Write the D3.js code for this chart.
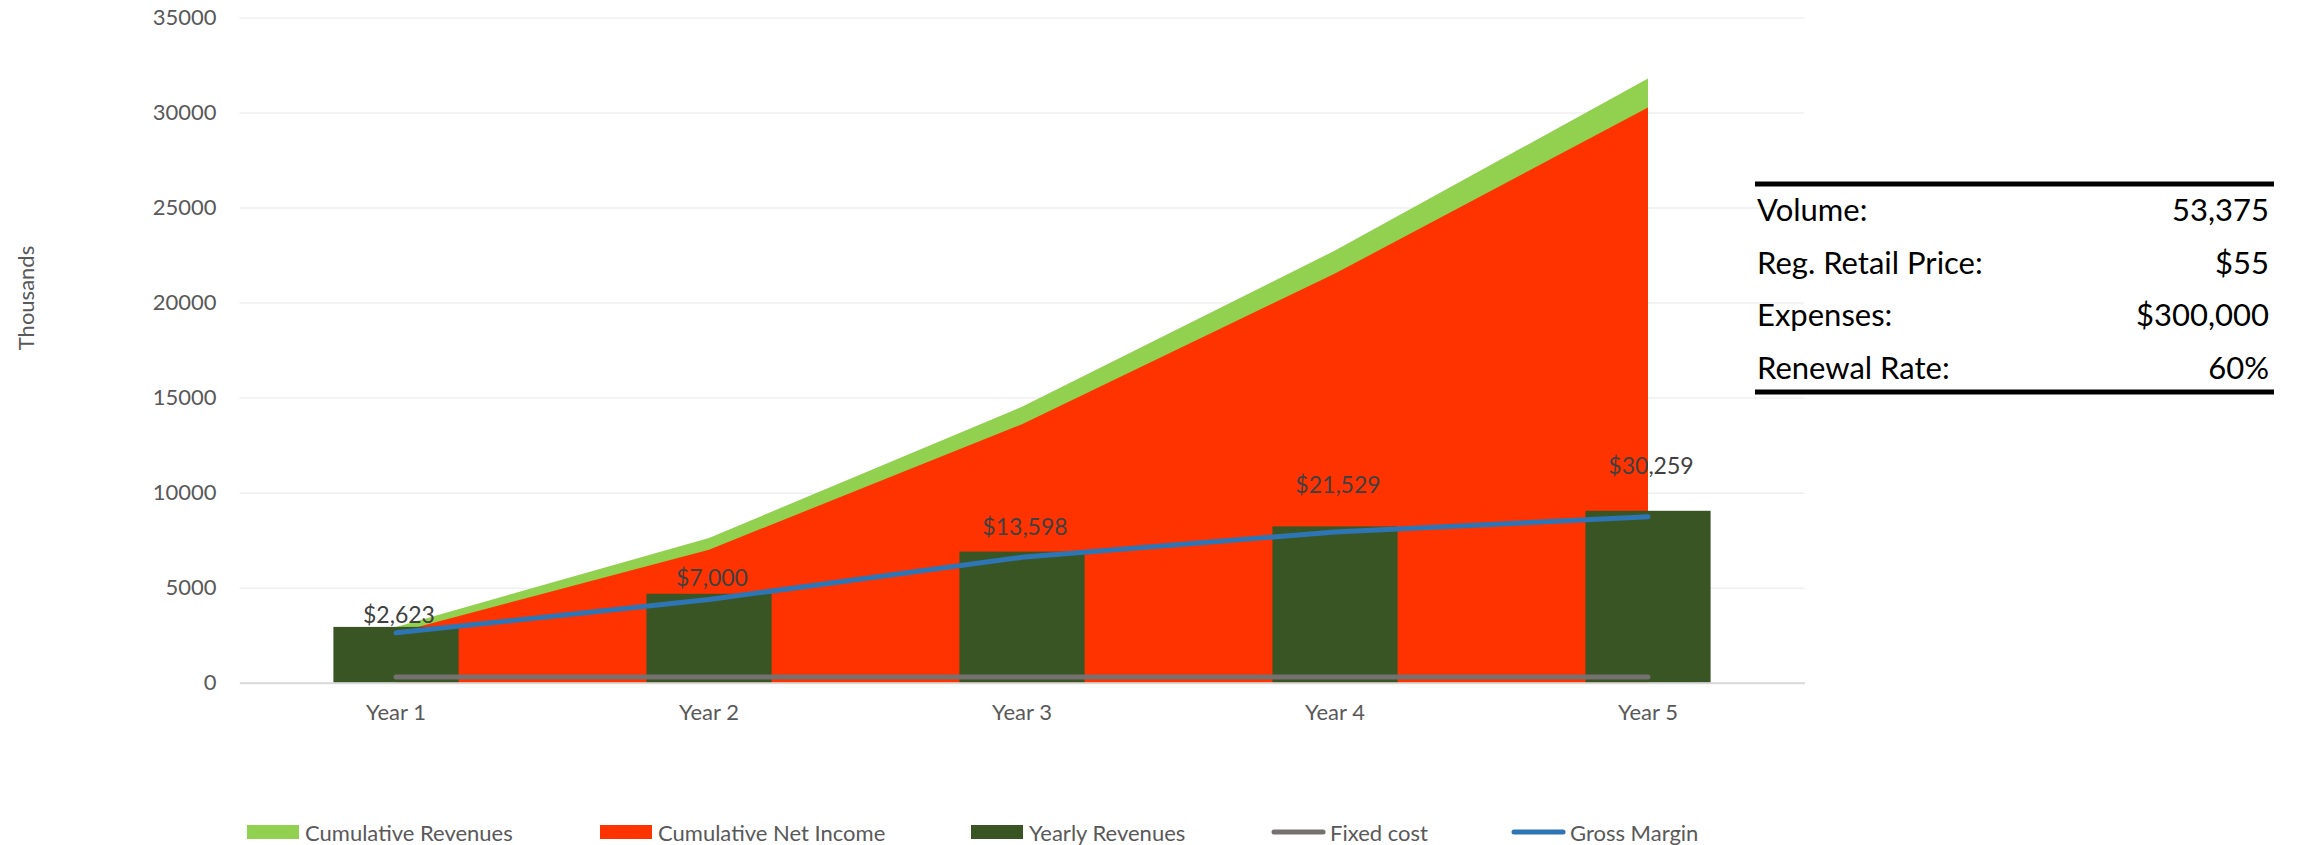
<!DOCTYPE html>
<html>
<head>
<meta charset="utf-8">
<script src="https://cdn.jsdelivr.net/npm/d3@7/dist/d3.min.js"></script>
<style>
  html, body { margin: 0; padding: 0; background: #ffffff; }
  svg { display: block; font-family: Lato, "Open Sans", sans-serif; }
  svg text { font-family: Lato, "Open Sans", sans-serif; }
</style>
</head>
<body>
<svg id="chart" width="2303" height="845"></svg>
<script>
// Five-year revenue projection (values in thousands of dollars)
const categories = ["Year 1", "Year 2", "Year 3", "Year 4", "Year 5"];
const cumulativeRevenues = [2936, 7616, 14516, 22741, 31786];
const cumulativeNetIncome = [2623, 7000, 13598, 21529, 30259];
const yearlyRevenues = [2936, 4680, 6900, 8225, 9045];
const fixedCost = [300, 300, 300, 300, 300];
const grossMargin = [2623, 4377, 6598, 7931, 8730];
// value-axis level at which each net-income label is placed
const labelAnchor = [3630, 5580, 8220, 10440, 11440];
const yTicks = [0, 5000, 10000, 15000, 20000, 25000, 30000, 35000];

const seriesNames = ["Cumulative Revenues", "Cumulative Net Income", "Yearly Revenues", "Fixed cost", "Gross Margin"];

const summaryLabels = ["Volume:", "Reg. Retail Price:", "Expenses:", "Renewal Rate:"];
const summaryValues = ["53,375", "$55", "$300,000", "60%"];

// colours
const C = {
  cumRev: "#92D050",
  cumNet: "#FF3300",
  yearly: "#3A5524",
  fixed: "#767171",
  margin: "#2E75B6",
  grid: "#EFEFEF",
  axis: "#D9D9D9",
  text: "#595959",
  label: "#404040"
};
const FONT = 'Lato, "Open Sans", sans-serif';

const svg = d3.select("#chart");

const plot = { left: 239.5, right: 1804.5, top: 17.5, bottom: 682.7 };

const x = d3.scaleBand().domain(categories).range([plot.left, plot.right]).padding(0);
const cx = d => x(d) + x.bandwidth() / 2;
const y = d3.scaleLinear().domain([0, 35000]).range([plot.bottom, plot.top]);

const rows = categories.map((c, i) => ({
  cat: c,
  cumRev: cumulativeRevenues[i],
  cumNet: cumulativeNetIncome[i],
  yearly: yearlyRevenues[i],
  fixed: fixedCost[i],
  margin: grossMargin[i],
  anchor: labelAnchor[i]
}));

// horizontal gridlines
const grid = svg.append("g")
  .attr("transform", `translate(${plot.left},0)`)
  .call(d3.axisLeft(y).tickValues(yTicks).tickSize(-(plot.right - plot.left)).tickFormat(""));
grid.select(".domain").remove();
grid.selectAll("line").attr("stroke", C.grid).attr("stroke-width", 1.5);

// value axis labels
const yAxis = svg.append("g")
  .attr("transform", `translate(${plot.left},0)`)
  .call(d3.axisLeft(y).tickValues(yTicks).tickSize(0).tickPadding(23).tickFormat(d3.format("d")))
  .attr("font-family", FONT);
yAxis.select(".domain").remove();
yAxis.selectAll("text")
  .attr("fill", C.text)
  .style("font-size", "22px");

// axis title
svg.append("text")
  .attr("transform", "translate(25,298) rotate(-90)")
  .attr("text-anchor", "middle")
  .attr("dominant-baseline", "central")
  .attr("fill", C.text)
  .style("font-size", "22px")
  .text("Thousands");

// cumulative areas, anchored at category centres
const areaOf = key => d3.area()
  .x(d => cx(d.cat))
  .y0(y(0))
  .y1(d => y(d[key]));

svg.append("path")
  .datum(rows)
  .attr("d", areaOf("cumRev"))
  .attr("fill", C.cumRev);

svg.append("path")
  .datum(rows)
  .attr("d", areaOf("cumNet"))
  .attr("fill", C.cumNet);

// yearly revenue columns
const barW = x.bandwidth() * 0.4;
svg.append("g")
  .selectAll("rect")
  .data(rows)
  .join("rect")
  .attr("x", d => cx(d.cat) - barW / 2)
  .attr("width", barW)
  .attr("y", d => y(d.yearly))
  .attr("height", d => y(0) - y(d.yearly))
  .attr("fill", C.yearly);

// category axis
const xAxis = svg.append("g")
  .attr("transform", `translate(0,${plot.bottom})`)
  .call(d3.axisBottom(x).tickSize(0))
  .attr("font-family", FONT);
xAxis.select(".domain").attr("stroke", C.axis).attr("stroke-width", 2);
xAxis.selectAll("text")
  .attr("y", 30)
  .attr("dy", "0.35em")
  .attr("fill", C.text)
  .style("font-size", "22px");

// lines
const lineOf = key => d3.line()
  .x(d => cx(d.cat))
  .y(d => y(d[key]));

svg.append("path")
  .datum(rows)
  .attr("d", lineOf("fixed"))
  .attr("fill", "none")
  .attr("stroke", C.fixed)
  .attr("stroke-width", 5)
  .attr("stroke-linecap", "round")
  .attr("stroke-linejoin", "round");

svg.append("path")
  .datum(rows)
  .attr("d", lineOf("margin"))
  .attr("fill", "none")
  .attr("stroke", C.margin)
  .attr("stroke-width", 5)
  .attr("stroke-linecap", "round")
  .attr("stroke-linejoin", "round");

// net income labels
const money = d3.format("$,.0f");
svg.append("g")
  .selectAll("text")
  .data(rows)
  .join("text")
  .attr("x", d => cx(d.cat) + 3)
  .attr("y", d => y(d.anchor))
  .attr("text-anchor", "middle")
  .attr("dominant-baseline", "central")
  .attr("fill", C.label)
  .style("font-size", "23px")
  .text(d => money(d.cumNet));

// legend
const legendX = [247, 600, 971, 1271, 1511];
const legendY = 832;
const legend = svg.append("g");
seriesNames.forEach((name, i) => {
  const g = legend.append("g").attr("transform", `translate(${legendX[i]},${legendY})`);
  if (i < 3) {
    g.append("rect")
      .attr("x", 0).attr("y", -7)
      .attr("width", 52).attr("height", 14)
      .attr("fill", [C.cumRev, C.cumNet, C.yearly][i]);
  } else {
    g.append("line")
      .attr("x1", 3).attr("x2", 52)
      .attr("y1", 0).attr("y2", 0)
      .attr("stroke", i === 3 ? C.fixed : C.margin)
      .attr("stroke-width", 5)
      .attr("stroke-linecap", "round");
  }
  g.append("text")
    .attr("x", i < 3 ? 58 : 59)
    .attr("y", 0)
    .attr("dominant-baseline", "central")
    .attr("fill", C.text)
    .style("font-size", "22px")
    .text(name);
});

// summary table
const table = { left: 1755, right: 2274, top: 184, bottom: 392, firstRow: 209, rowStep: 52.7 };
svg.append("line")
  .attr("x1", table.left).attr("x2", table.right)
  .attr("y1", table.top).attr("y2", table.top)
  .attr("stroke", "#000").attr("stroke-width", 5);
svg.append("line")
  .attr("x1", table.left).attr("x2", table.right)
  .attr("y1", table.bottom).attr("y2", table.bottom)
  .attr("stroke", "#000").attr("stroke-width", 5);

const tRows = svg.append("g")
  .selectAll("g")
  .data(summaryLabels.map((l, i) => ({ label: l, value: summaryValues[i] })))
  .join("g")
  .attr("transform", (d, i) => `translate(0,${table.firstRow + i * table.rowStep})`);

tRows.append("text")
  .attr("x", table.left + 2)
  .attr("dominant-baseline", "central")
  .attr("fill", "#000")
  .style("font-size", "31px")
  .text(d => d.label);

tRows.append("text")
  .attr("x", table.right - 5)
  .attr("text-anchor", "end")
  .attr("dominant-baseline", "central")
  .attr("fill", "#000")
  .style("font-size", "31px")
  .text(d => d.value);
</script>
</body>
</html>
